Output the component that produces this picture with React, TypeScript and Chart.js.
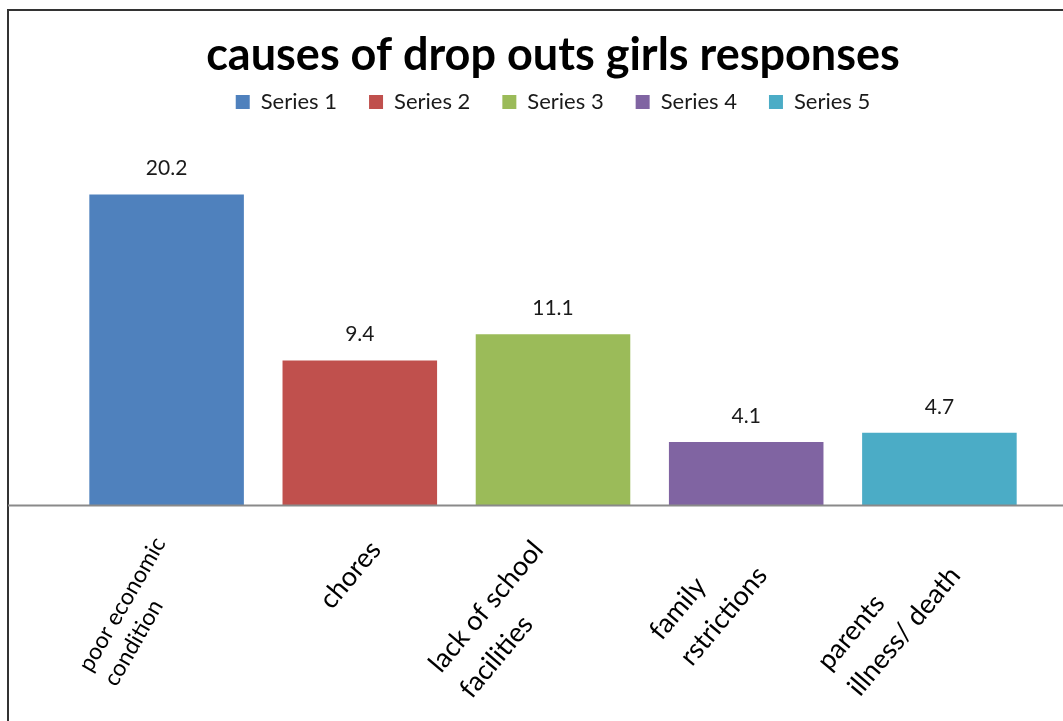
import React, { useEffect, useRef } from "react";
import { Chart, registerables } from "chart.js";

Chart.register(...registerables);

const categories: string[][] = [
  ["poor economic", "condition"],
  ["chores"],
  ["lack of school", "facilities"],
  ["family", "rstrictions"],
  ["parents", "illness/ death"],
];
const seriesNames = ["Series 1", "Series 2", "Series 3", "Series 4", "Series 5"];
const values = [20.2, 9.4, 11.1, 4.1, 4.7];
const colors = ["#4F81BD", "#C0504D", "#9BBB59", "#8064A2", "#4BACC6"];
const titleText = "causes of drop outs girls responses";

const FONT = "Lato, 'Open Sans', sans-serif";

const axisLinePlugin = {
  id: "axisLine",
  afterDatasetsDraw(chart: any) {
    const { ctx } = chart;
    const y = Math.round(chart.scales.y.getPixelForValue(0)) + 0.5;
    ctx.save();
    ctx.strokeStyle = "#8a8a8a";
    ctx.lineWidth = 2;
    ctx.beginPath();
    ctx.moveTo(8, y);
    ctx.lineTo(chart.width, y);
    ctx.stroke();
    ctx.restore();
  },
};

const valueLabelPlugin = {
  id: "valueLabels",
  afterDatasetsDraw(chart: any) {
    const { ctx } = chart;
    ctx.save();
    ctx.font = `21px ${FONT}`;
    ctx.fillStyle = "#1a1a1a";
    ctx.textAlign = "center";
    ctx.textBaseline = "middle";
    chart.data.datasets.forEach((ds: any, di: number) => {
      const meta = chart.getDatasetMeta(di);
      meta.data.forEach((bar: any, i: number) => {
        const v = ds.data[i];
        if (v === null || v === undefined) return;
        ctx.fillText(String(v), bar.x, bar.y - 26);
      });
    });
    ctx.restore();
  },
};

// Category labels: rotated, multi-line, left-aligned (as in the original)
const tickLabelPlugin = {
  id: "tickLabels",
  afterDraw(chart: any) {
    const { ctx } = chart;
    const xs = chart.scales.x;
    const axisY = chart.scales.y.getPixelForValue(0);
    ctx.save();
    ctx.fillStyle = "#000";
    ctx.textAlign = "left";
    ctx.textBaseline = "middle";
    (chart.data.labels as any[]).forEach((lab, i) => {
      const lines: string[] = Array.isArray(lab) ? lab : [lab];
      const first = i === 0;
      const size = first ? 23 : 27;
      const lh = first ? 29 : 40;
      const a = ((first ? 60 : 50) * Math.PI) / 180;
      ctx.font = `${size}px ${FONT}`;
      const L = Math.max(...lines.map((l) => ctx.measureText(l).width));
      const H = lines.length * lh;
      const c = Math.cos(a);
      const s = Math.sin(a);
      const tick = xs.getPixelForTick(i);
      const ox = tick + 31 - (L * c + H * s);
      const oy = axisY + 27 + L * s;
      ctx.save();
      ctx.translate(ox, oy);
      ctx.rotate(-a);
      lines.forEach((line, k) => ctx.fillText(line, 0, lh * (k + 0.5)));
      ctx.restore();
    });
    ctx.restore();
  },
};

export default function App() {
  const ref = useRef<HTMLCanvasElement | null>(null);
  useEffect(() => {
    if (!ref.current) return;
    const datasets = seriesNames.map((name, si) => ({
      label: name,
      data: values.map((v, i) => (i === si ? v : null)),
      backgroundColor: colors[si],
      borderWidth: 0,
      barPercentage: 0.8,
      categoryPercentage: 1,
    }));
    const chart = new Chart(ref.current, {
      type: "bar",
      data: { labels: categories as any, datasets },
      options: {
        animation: false,
        responsive: false,
        maintainAspectRatio: false,
        layout: { padding: { left: 70, right: 27, top: 0, bottom: 0 } },
        plugins: {
          title: {
            display: true,
            text: titleText,
            color: "#000",
            font: { family: FONT, size: 45, weight: "bold", lineHeight: 1.2 },
            padding: { top: 28, bottom: -23 },
          },
          legend: {
            display: true,
            position: "top",
            labels: {
              color: "#1a1a1a",
              font: { family: FONT, size: 22 },
              boxWidth: 14,
              boxHeight: 14,
              padding: 32,
            },
          },
          tooltip: { enabled: false },
        },
        scales: {
          x: {
            stacked: true,
            grid: { display: false, drawTicks: false },
            border: { display: false },
            ticks: { display: false },
            afterFit: (scale: any) => {
              scale.height = 721 - 505;
            },
          },
          y: {
            stacked: true,
            display: false,
            min: 0,
            max: 24.85,
          },
        },
      },
      plugins: [axisLinePlugin, valueLabelPlugin, tickLabelPlugin],
    });
    return () => chart.destroy();
  }, []);
  return (
    <>
      <div
        style={{
          position: "fixed",
          left: 7,
          top: 9,
          width: 1100,
          height: 800,
          border: "2px solid #333",
          background: "#fff",
        }}
      />
      <canvas
        ref={ref}
        width={1063}
        height={721}
        style={{ position: "fixed", left: 0, top: 0, width: 1063, height: 721 }}
      />
    </>
  );
}
